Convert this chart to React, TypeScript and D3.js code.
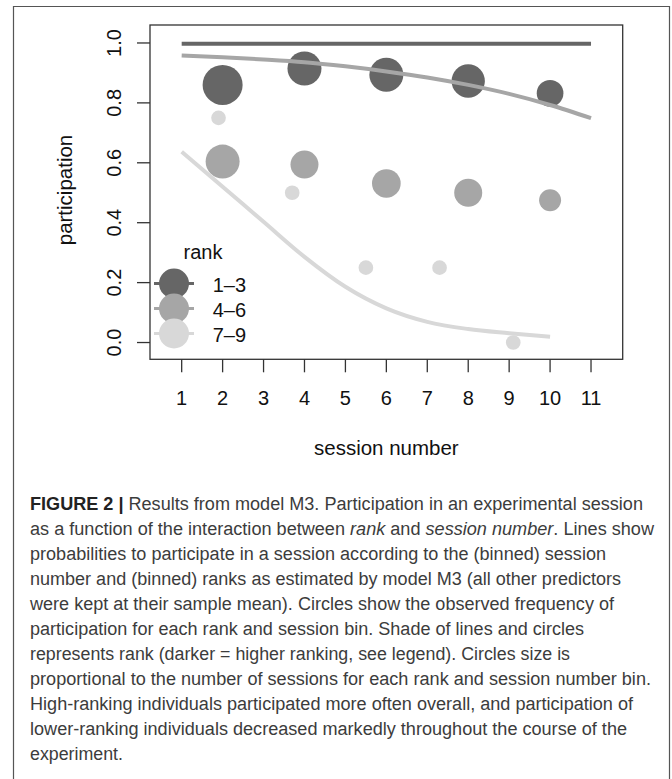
import React from 'react';
import * as d3 from 'd3';

// session bins on the x axis
const sessions = [1, 2, 3, 4, 5, 6, 7, 8, 9, 10, 11];
const yTicks = [0, 0.2, 0.4, 0.6, 0.8, 1.0];

// model fits (probability of participation) per rank group
const fitHigh = [0.997, 0.997, 0.997, 0.997, 0.997, 0.997, 0.997, 0.997, 0.997, 0.997, 0.997];
const fitMid = [0.958, 0.952, 0.945, 0.936, 0.922, 0.905, 0.885, 0.86, 0.83, 0.793, 0.749];
const fitLowSessions = [1, 2, 3, 4, 5, 6, 7, 8, 9, 10];
const fitLow = [0.637, 0.52, 0.403, 0.286, 0.186, 0.114, 0.069, 0.045, 0.031, 0.019];

// observed frequencies
const obsHighX = [2, 4, 6, 8, 10];
const obsHighY = [0.86, 0.915, 0.894, 0.873, 0.832];
const obsHighN = [60, 51, 51, 50, 40];

const obsMidX = [2, 4, 6, 8, 10];
const obsMidY = [0.604, 0.594, 0.531, 0.5, 0.475];
const obsMidN = [51, 42, 43, 42, 33];

const obsLowX = [1.9, 3.7, 5.5, 7.3, 9.1];
const obsLowY = [0.75, 0.5, 0.25, 0.25, 0.0];
const obsLowN = [22, 22, 22, 22, 22];

const rankLabels = ['1\u20133', '4\u20136', '7\u20139'];
const rankColors = ['#666666', '#a6a6a6', '#d8d8d8'];
const legendN = 45;

const captionLines = [
  'Results from model M3. Participation in an experimental session',
  '',
  'probabilities to participate in a session according to the (binned) session',
  'number and (binned) ranks as estimated by model M3 (all other predictors',
  'were kept at their sample mean). Circles show the observed frequency of',
  'participation for each rank and session bin. Shade of lines and circles',
  'represents rank (darker = higher ranking, see legend). Circles size is',
  'proportional to the number of sessions for each rank and session number bin.',
  'High-ranking individuals participated more often overall, and participation of',
  'lower-ranking individuals decreased markedly throughout the course of the',
  'experiment.',
];
const captionWidths = [613, 624, 576, 591, 584, 554, 540, 621, 603, 597, 93];

const W = 672;
const H = 779;
const plot = { left: 150, right: 622.7, top: 25, bottom: 359.3 };

export default function App() {
  const x = d3.scaleLinear().domain([0.226, 11.774]).range([plot.left, plot.right]);
  const y = d3.scaleLinear().domain([-0.056, 1.06]).range([plot.bottom, plot.top]);
  const r = d3.scaleLinear().domain([0, 60]).range([0, 20]);

  const line = d3
    .line<[number, number]>()
    .x((d) => x(d[0]))
    .y((d) => y(d[1]))
    .curve(d3.curveMonotoneX);

  const fits = [
    d3.zip(sessions, fitHigh) as [number, number][],
    d3.zip(sessions, fitMid) as [number, number][],
    d3.zip(fitLowSessions, fitLow) as [number, number][],
  ];
  const obs = [
    { xs: obsHighX, ys: obsHighY, ns: obsHighN },
    { xs: obsMidX, ys: obsMidY, ns: obsMidN },
    { xs: obsLowX, ys: obsLowY, ns: obsLowN },
  ];

  const font = 'Liberation Sans, Arial, Helvetica, sans-serif';
  const capFont = 'Liberation Sans Narrow, Liberation Sans, Arial, sans-serif';
  const fs = 20;

  return (
    <svg
      width={W}
      height={H}
      style={{ position: 'absolute', left: 0, top: 0, background: '#fff' }}
      fontFamily={font}
    >
      {/* outer figure frame */}
      <path d={`M13.5,${H + 2} V6.5 H669.5 V${H + 2}`} fill="none" stroke="#555" strokeWidth={1.2} />

      {/* observed circles */}
      {obs.map((o, i) =>
        o.xs.map((xv, j) => (
          <circle key={`c${i}-${j}`} cx={x(xv)} cy={y(o.ys[j])} r={r(o.ns[j])} fill={rankColors[i]} />
        ))
      )}

      {/* fitted lines */}
      {fits.map((f, i) => (
        <path key={`l${i}`} d={line(f) || ''} fill="none" stroke={rankColors[i]} strokeWidth={4} />
      ))}

      {/* plot box */}
      <rect
        x={plot.left}
        y={plot.top}
        width={plot.right - plot.left}
        height={plot.bottom - plot.top}
        fill="none"
        stroke="#333"
        strokeWidth={1.3}
      />

      {/* x axis */}
      {sessions.map((s) => (
        <g key={`xt${s}`}>
          <line x1={x(s)} x2={x(s)} y1={plot.bottom} y2={plot.bottom + 13} stroke="#333" strokeWidth={1.3} />
          <text x={x(s)} y={404.5} textAnchor="middle" fontSize={fs} fill="#111">
            {s}
          </text>
        </g>
      ))}
      <text x={(plot.left + plot.right) / 2} y={455} textAnchor="middle" fontSize={20.5} fill="#111">
        session number
      </text>

      {/* y axis */}
      {yTicks.map((t) => (
        <g key={`yt${t}`}>
          <line x1={plot.left - 13} x2={plot.left} y1={y(t)} y2={y(t)} stroke="#333" strokeWidth={1.3} />
          <text
            transform={`translate(120.5,${y(t)}) rotate(-90)`}
            textAnchor="middle"
            fontSize={fs}
            fill="#111"
          >
            {t.toFixed(1)}
          </text>
        </g>
      ))}
      <text transform="translate(72,190) rotate(-90)" textAnchor="middle" fontSize={20.5} fill="#111">
        participation
      </text>

      {/* legend */}
      <text x={183.5} y={258.5} fontSize={fs} fill="#111">
        rank
      </text>
      {rankLabels.map((lab, i) => {
        const cy = 283.5 + i * 25;
        return (
          <g key={`lg${i}`}>
            <line x1={154} x2={194} y1={cy} y2={cy} stroke={rankColors[i]} strokeWidth={3} />
            <circle cx={174} cy={cy} r={r(legendN)} fill={rankColors[i]} />
            <text x={212.7} y={cy + 8.2} fontSize={fs} fill="#111">
              {lab}
            </text>
          </g>
        );
      })}

      {/* caption */}
      <g fontFamily={capFont} fontSize={18} fill="#3c3c3c">
        {captionLines.map((txt, i) => {
          const yy = 510 + i * 25;
          const tl = { textLength: captionWidths[i], lengthAdjust: 'spacingAndGlyphs' };
          if (i === 0) {
            return (
              <text key={i} x={30} y={yy} {...tl}>
                <tspan fontWeight="bold" fill="#222">
                  FIGURE 2 |
                </tspan>
                <tspan> {txt}</tspan>
              </text>
            );
          }
          if (i === 1) {
            return (
              <text key={i} x={30} y={yy} {...tl}>
                as a function of the interaction between <tspan fontStyle="italic">rank</tspan> and{' '}
                <tspan fontStyle="italic">session number</tspan>. Lines show
              </text>
            );
          }
          return (
            <text key={i} x={30} y={yy} {...tl}>
              {txt}
            </text>
          );
        })}
      </g>
    </svg>
  );
}
